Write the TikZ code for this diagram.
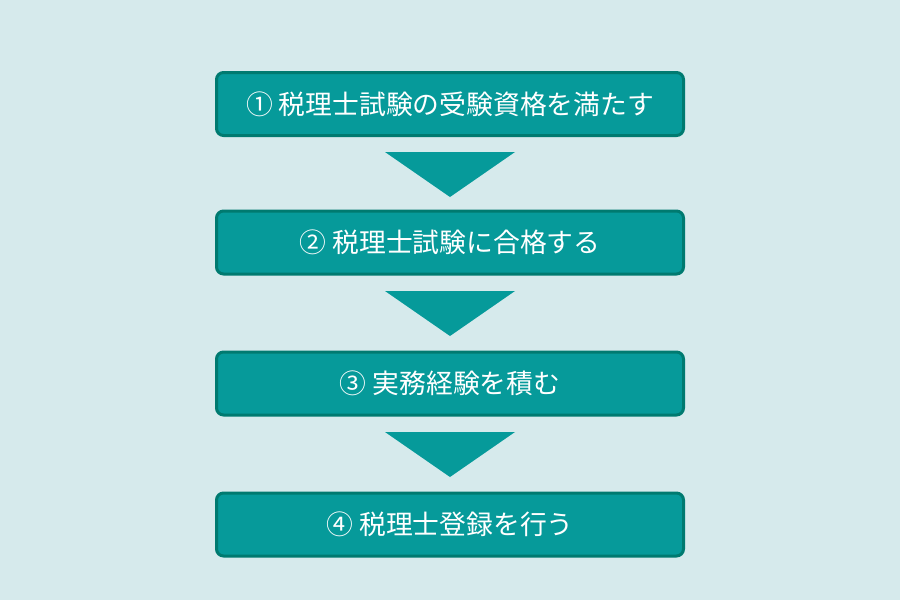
\documentclass[tikz,border=0pt]{standalone}
\usepackage{fontspec}
\newfontfamily\jp{Noto Sans CJK JP}
\definecolor{bg}{HTML}{D6EAEC}
\definecolor{boxfill}{HTML}{069A9A}
\definecolor{boxline}{HTML}{007A70}
\tikzset{
  stepbox/.style={draw=boxline, line width=3pt, fill=boxfill, rounded corners=7pt,
    minimum width=467pt, minimum height=63pt, inner sep=0pt,
    text=white, font=\jp\fontsize{26.8}{30}\selectfont},
  tri/.style={fill=boxfill, draw=none}
}
\begin{document}
\begin{tikzpicture}[x=1pt,y=-1pt]
\fill[bg] (0,0) rectangle (900,600);
\useasboundingbox (0,0) rectangle (900,600);
\node[stepbox] (s1) at (450,104) {① 税理士試験の受験資格を満たす};
\node[stepbox] (s2) at (450,242.5) {② 税理士試験に合格する};
\node[stepbox] (s3) at (450,383.5) {③ 実務経験を積む};
\node[stepbox] (s4) at (450,524.5) {④ 税理士登録を行う};
\coordinate (a1l) at (385,152); \coordinate (a1r) at (515,152); \coordinate (a1b) at (450,197);
\coordinate (a2l) at (385,291); \coordinate (a2r) at (515,291); \coordinate (a2b) at (450,336);
\coordinate (a3l) at (385,432); \coordinate (a3r) at (515,432); \coordinate (a3b) at (450,477);
\fill[tri] (a1l) -- (a1r) -- (a1b) -- cycle;
\fill[tri] (a2l) -- (a2r) -- (a2b) -- cycle;
\fill[tri] (a3l) -- (a3r) -- (a3b) -- cycle;
\end{tikzpicture}
\end{document}
